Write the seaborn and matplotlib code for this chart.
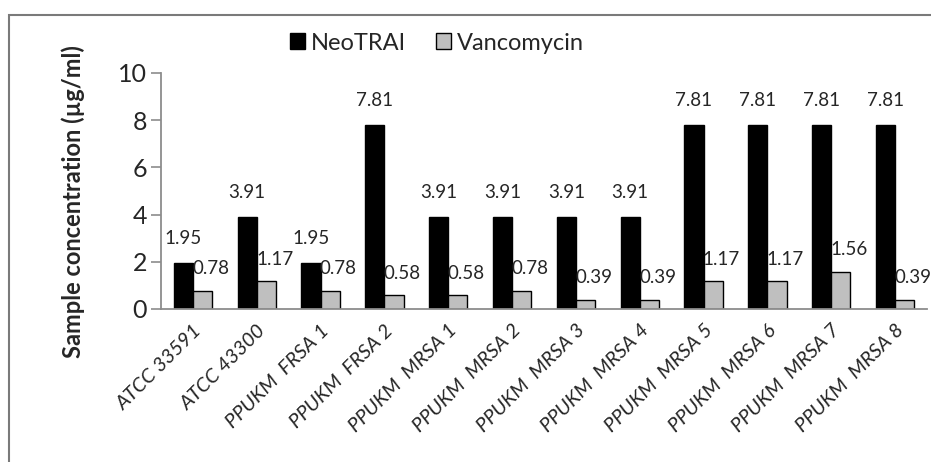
import numpy as np
import pandas as pd
import matplotlib
matplotlib.use("Agg")
import matplotlib.pyplot as plt
from matplotlib.patches import Rectangle
import seaborn as sns

categories = ["ATCC 33591", "ATCC 43300", "PPUKM  FRSA 1", "PPUKM  FRSA 2",
              "PPUKM  MRSA 1", "PPUKM  MRSA 2", "PPUKM  MRSA 3", "PPUKM  MRSA 4",
              "PPUKM  MRSA 5", "PPUKM  MRSA 6", "PPUKM  MRSA 7", "PPUKM  MRSA 8"]
neotrai = [1.95, 3.91, 1.95, 7.81, 3.91, 3.91, 3.91, 3.91, 7.81, 7.81, 7.81, 7.81]
vancomycin = [0.78, 1.17, 0.78, 0.58, 0.58, 0.78, 0.39, 0.39, 1.17, 1.17, 1.56, 0.39]
series = ["NeoTRAI", "Vancomycin"]
y_ticks = [0, 2, 4, 6, 8, 10]

df = pd.DataFrame({
    "strain": categories * 2,
    "value": neotrai + vancomycin,
    "series": [series[0]] * len(categories) + [series[1]] * len(categories),
})

sns.set_theme(style="white")
plt.rcParams["font.family"] = ["Lato", "DejaVu Sans"]

W, H = 931, 462
fig = plt.figure(figsize=(W / 100, H / 100), dpi=100)
ax = fig.add_axes([161 / W, 1 - 309 / H, (927 - 161) / W, (309 - 73) / H])

sns.barplot(data=df, x="strain", y="value", hue="series", order=categories,
            hue_order=series, palette=["#000000", "#bfbfbf"], width=0.6,
            edgecolor="#000000", linewidth=1.0, legend=False, ax=ax, errorbar=None)

ax.set_ylim(0, 10)
ax.set_xlim(-0.5, len(categories) - 0.5)
ax.set_yticks(y_ticks)
ax.set_yticklabels([str(t) for t in y_ticks], fontsize=18)
ax.set_xticks(range(len(categories)))
ax.set_xticklabels(categories, rotation=45, ha="right", rotation_mode="anchor",
                   fontsize=14.5, style="italic")
ax.set_xticks(np.arange(-0.5, len(categories), 1), minor=True)
ax.tick_params(axis="x", which="major", length=0, pad=9)
ax.tick_params(axis="x", which="minor", length=7, width=1.2, color="#8c8c8c", direction="out")
ax.tick_params(axis="y", length=7, width=1.2, color="#8c8c8c", direction="out", left=True, pad=3)
ax.set_xlabel("")
ax.set_ylabel("")
for s in ["top", "right"]:
    ax.spines[s].set_visible(False)
for s in ["left", "bottom"]:
    ax.spines[s].set_color("#8c8c8c")
    ax.spines[s].set_linewidth(1.3)
ax.grid(False)

# data labels
c0, c1 = ax.containers[0], ax.containers[1]
for bar, v in zip(c0, neotrai):
    ax.annotate(f"{v:.2f}", (bar.get_x() + bar.get_width() / 2, bar.get_height()),
                xytext=(0, 17.5), textcoords="offset points", ha="center", va="center",
                fontsize=13.5)
for bar, v in zip(c1, vancomycin):
    ax.annotate(f"{v:.2f}", (bar.get_x() + bar.get_width() / 2, bar.get_height()),
                xytext=(6, 16), textcoords="offset points", ha="center", va="center",
                fontsize=13.5)

fig.text(73 / W, 1 - 202 / H, "Sample concentration (µg/ml)", rotation=90,
         ha="center", va="center", fontsize=17, fontweight="bold")

# legend
handles = [Rectangle((0, 0), 1, 1, facecolor="#000000", edgecolor="#000000"),
           Rectangle((0, 0), 1, 1, facecolor="#bfbfbf", edgecolor="#000000")]
fig.legend(handles, series, loc="center", bbox_to_anchor=(437 / W, 1 - 43 / H),
           ncol=2, frameon=False, fontsize=17, handlelength=0.65, handleheight=0.65,
           handletextpad=0.25, columnspacing=1.25, borderaxespad=0)

# outer frame (clipped at right and bottom like the reference)
fig.patches.append(Rectangle((9 / W, -0.1), 1.2, 1 - 15 / H + 0.1,
                             transform=fig.transFigure, fill=False,
                             edgecolor="#7a7a7a", linewidth=1.5))

fig.savefig("out.png", dpi=100)
